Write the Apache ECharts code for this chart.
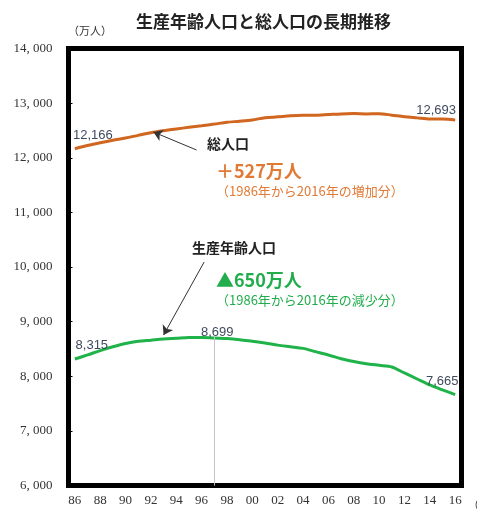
<!DOCTYPE html>
<html>
<head>
<meta charset="utf-8">
<script src="https://cdn.jsdelivr.net/npm/echarts@6/dist/echarts.min.js"></script>
<style>html,body{margin:0;padding:0;background:#fff}#c{width:477px;height:522px}</style>
</head>
<body>
<div id="c"></div>
<script>
const years = [1986,1987,1988,1989,1990,1991,1992,1993,1994,1995,1996,1997,1998,1999,2000,2001,2002,2003,2004,2005,2006,2007,2008,2009,2010,2011,2012,2013,2014,2015,2016];
const totalPop = [12166,12224,12275,12321,12361,12410,12457,12494,12527,12557,12586,12616,12649,12669,12693,12732,12749,12769,12779,12777,12790,12803,12808,12803,12806,12780,12752,12730,12708,12709,12693];
const workingPop = [8315,8390,8470,8540,8600,8640,8660,8680,8695,8710,8710,8699,8690,8670,8640,8610,8570,8540,8510,8450,8390,8320,8270,8230,8200,8170,8060,7950,7840,7750,7665];
const xTicks = [1986,1988,1990,1992,1994,1996,1998,2000,2002,2004,2006,2008,2010,2012,2014,2016];
const yMin = 6000, yMax = 14000, yStep = 1000;

const labelColor = '#404a5e';
const labelFont = {fontFamily:'Liberation Sans', fontSize:13, color:labelColor};

function buildData(values, labels) {
  return years.map((y, i) => {
    const item = {value:[y, values[i]]};
    if (labels[i]) item.label = Object.assign({show:true, position:'top', formatter: p => p.value[1].toLocaleString('en-US')}, labelFont, labels[i]);
    return item;
  });
}
const last = years.length - 1;
const i1997 = years.indexOf(1997);
const totalLabels = {}; totalLabels[0] = {offset:[18,-2]}; totalLabels[last] = {offset:[-19,2]};
const workLabels = {}; workLabels[0] = {offset:[17,-2]}; workLabels[i1997] = {offset:[3,6]}; workLabels[last] = {offset:[-13,-2]};

const orange = '#d0661f', green = '#1fb34a';
const chart = echarts.init(document.getElementById('c'), null, {renderer:'canvas'});
chart.setOption({
  animation:false,
  backgroundColor:'#fff',
  title:{text:'生産年齢人口と総人口の長期推移', left:131, top:8, textStyle:{fontFamily:'Noto Sans CJK JP', fontSize:17, fontWeight:'bold', color:'#222'}},
  grid:{left:68.5, top:48.5, right:15.5, bottom:36.5, show:true, borderColor:'#000', borderWidth:5, backgroundColor:'#fff'},
  xAxis:{type:'value', min:1985.5, max:2016.5,
    axisLine:{show:false}, axisTick:{show:false}, splitLine:{show:false},
    axisLabel:{customValues:xTicks, formatter:v=>String(v).slice(2), fontFamily:'Liberation Serif', fontSize:13, color:'#333', margin:9}},
  yAxis:{type:'value', min:yMin, max:yMax, interval:yStep,
    axisLine:{show:false}, splitLine:{show:false},
    axisTick:{show:true, inside:true, length:4, lineStyle:{color:'#000', width:1}},
    axisLabel:{formatter:v=>String(v).replace(/\B(?=(\d{3})+(?!\d))/g, ', '), fontFamily:'Liberation Serif', fontSize:13, color:'#333', margin:16}},
  series:[
    {type:'line', name:'総人口', data:buildData(totalPop, totalLabels), showSymbol:true, symbol:'circle', symbolSize:0.1, smooth:0.3,
      lineStyle:{color:orange, width:3}, itemStyle:{color:orange},
      markLine:{silent:true, label:{show:false},
        lineStyle:{color:'#333', width:1, type:'solid'},
        data:[[{coord:[1995.6,12142], symbol:'none'},{coord:[1992.2,12471], symbol:'arrow', symbolSize:9}]]}},
    {type:'line', name:'生産年齢人口', data:buildData(workingPop, workLabels), showSymbol:true, symbol:'circle', symbolSize:0.1, smooth:0.3,
      lineStyle:{color:green, width:3}, itemStyle:{color:green},
      markLine:{silent:true, label:{show:false},
        data:[
          [{coord:[1997,8740], symbol:'none', lineStyle:{color:'#c4c4c4', width:1, type:'solid'}},{coord:[1997,6000], symbol:'none'}],
          [{coord:[1996.2,10091], symbol:'none', lineStyle:{color:'#333', width:1, type:'solid'}},{coord:[1993.0,8755], symbol:'arrow', symbolSize:9}]
        ]}}
  ],
  graphic:[
    {type:'text', x:68, y:31, style:{text:'（万人）', font:'11px "Noto Sans CJK JP"', fill:'#333', verticalAlign:'middle'}},
    {type:'text', x:468, y:505, style:{text:'（年）', font:'11px "Noto Sans CJK JP"', fill:'#333', verticalAlign:'middle'}},
    {type:'text', x:207, y:144, style:{text:'総人口', font:'bold 14px "Noto Sans CJK JP"', fill:'#222', verticalAlign:'middle'}},
    {type:'text', x:216, y:171, style:{text:'＋527万人', font:'bold 18px "Noto Sans CJK JP"', fill:'#e07a35', verticalAlign:'middle'}},
    {type:'text', x:216, y:191, style:{text:'（1986年から2016年の増加分）', font:'13px "Noto Sans CJK JP"', fill:'#e07a35', verticalAlign:'middle'}},
    {type:'text', x:192, y:248, style:{text:'生産年齢人口', font:'bold 14px "Noto Sans CJK JP"', fill:'#222', verticalAlign:'middle'}},
    {type:'text', x:216, y:280, style:{text:'▲650万人', font:'bold 18px "Noto Sans CJK JP"', fill:'#22ad4c', verticalAlign:'middle'}},
    {type:'text', x:216, y:300, style:{text:'（1986年から2016年の減少分）', font:'13px "Noto Sans CJK JP"', fill:'#22ad4c', verticalAlign:'middle'}}
  ]
});
</script>
</body>
</html>
